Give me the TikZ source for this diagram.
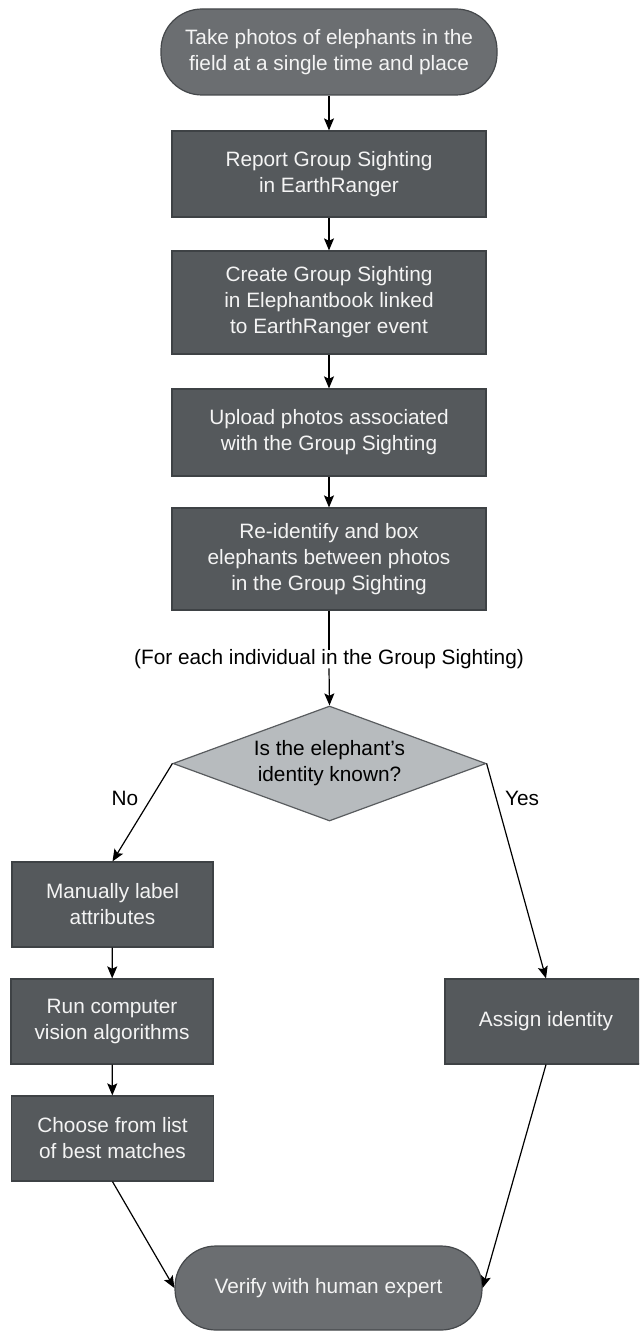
\documentclass[tikz,border=0pt]{standalone}
\usepackage{fontspec}
\setmainfont{Liberation Sans}
\usetikzlibrary{shapes.geometric,arrows.meta}
\definecolor{boxfill}{HTML}{55595C}
\definecolor{boxline}{HTML}{3E4245}
\definecolor{termfill}{HTML}{6B6E71}
\definecolor{termline}{HTML}{45484B}
\definecolor{diafill}{HTML}{B7BBBE}
\definecolor{dialine}{HTML}{595C5F}
\definecolor{boxtext}{HTML}{F4F4F4}
\begin{document}
\begin{tikzpicture}[x=0.5pt,y=-0.5pt,
  every node/.style={font=\fontsize{10.4pt}{13pt}\selectfont, inner sep=0pt, align=center},
  procbox/.style={rectangle, draw=boxline, fill=boxfill, text=boxtext, line width=0.6pt},
  termbox/.style={rectangle, rounded corners=20.5pt, draw=termline, fill=termfill, text=boxtext, line width=0.6pt},
  decbox/.style={diamond, shape aspect=2.72, draw=dialine, fill=diafill, text=black, line width=0.6pt},
  flow/.style={-{Stealth[length=6pt,width=5pt,inset=1.2pt]}, line width=0.6pt, black},
  plain/.style={line width=0.6pt, black}]
\useasboundingbox (0,0) rectangle (639,1331);
\clip (0,0) rectangle (639,1331);
\node[termbox, minimum width=168pt, minimum height=43pt] (start) at (329,52) {Take photos of elephants in the\\field at a single time and place};
\node[procbox, minimum width=157pt, minimum height=43pt] (b1) at (329,174) {Report Group Sighting\\in EarthRanger};
\node[procbox, minimum width=157pt, minimum height=51.5pt] (b2) at (329,302.5) {Create Group Sighting\\in Elephantbook linked\\to EarthRanger event};
\node[procbox, minimum width=157pt, minimum height=43.5pt] (b3) at (329,432.5) {Upload photos associated\\with the Group Sighting};
\node[procbox, minimum width=157pt, minimum height=51pt] (b4) at (329,559) {Re-identify and box\\elephants between photos\\in the Group Sighting};
\node[inner sep=0pt, minimum height=13pt] (each) at (329,659) {(For each individual in the Group Sighting)};
\node[decbox, minimum width=156.5pt, minimum height=57.5pt] (dec) at (329.5,763.5) {Is the elephant’s\\identity known?};
\node (no) at (125,798) {No};
\node (yes) at (522,798) {Yes};
\node[procbox, minimum width=100.5pt, minimum height=42.5pt] (man) at (112.5,904.5) {Manually label\\attributes};
\node[procbox, minimum width=101pt, minimum height=42.5pt] (run) at (112,1021.5) {Run computer\\vision algorithms};
\node[procbox, minimum width=101pt, minimum height=42.5pt] (choose) at (112.5,1138.5) {Choose from list\\of best matches};
\node[procbox, minimum width=101pt, minimum height=42.5pt] (assign) at (546,1021.5) {Assign identity};
\node[termbox, minimum width=153.5pt, minimum height=42pt] (finish) at (328.5,1288) {Verify with human expert};
\draw[flow] (start) -- (b1);
\draw[flow] (b1) -- (b2);
\draw[flow] (b2) -- (b3);
\draw[flow] (b3) -- (b4);
\draw[plain] (b4.south) -- ([yshift=-2pt]each.north);
\draw[flow] ([yshift=2pt]each.south) -- (dec.north);
\draw[flow] (dec.west) -- (man.north);
\draw[flow] (dec.east) -- (assign.north);
\draw[flow] (man) -- (run);
\draw[flow] (run) -- (choose);
\draw[flow] (choose.south) -- (finish.west);
\draw[flow] (assign.south) -- (finish.east);
\end{tikzpicture}
\end{document}
